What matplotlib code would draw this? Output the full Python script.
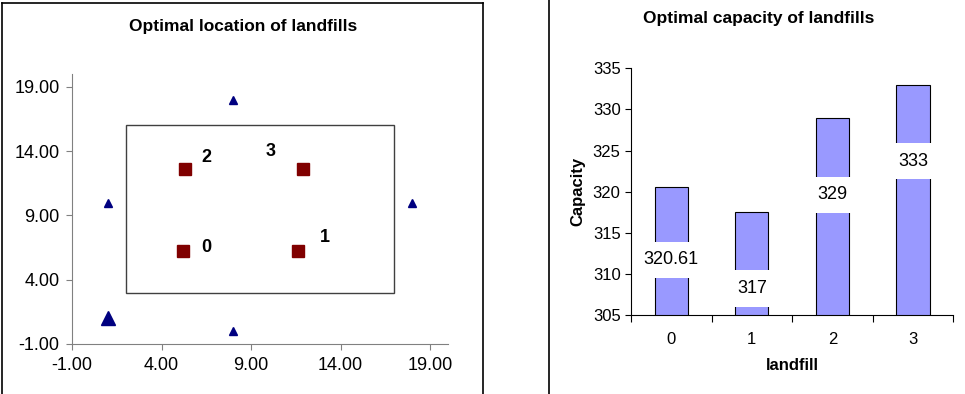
import matplotlib
matplotlib.use('Agg')
import matplotlib.pyplot as plt
from matplotlib.lines import Line2D
from matplotlib.patches import Rectangle

plt.rcParams['font.family'] = ['Liberation Sans', 'DejaVu Sans']

# customer points (triangles)
cust_x = [1, 8, 18, 8, 1]
cust_y = [10, 18, 10, 0, 1]
cust_size = [6, 6, 6, 6, 10]

# landfill locations (squares)
fill_x = [5.2, 11.6, 5.3, 11.9]
fill_y = [6.2, 6.2, 12.6, 12.6]
fill_names = ['0', '1', '2', '3']
name_x = [6.5, 13.1, 6.5, 10.1]
name_y = [6.5, 7.3, 13.5, 14.0]

# feasible region
region = (2, 3, 17, 16)  # x0, y0, x1, y1

# capacity chart
landfills = ['0', '1', '2', '3']
capacity = [320.61, 317.5, 329, 333]
cap_labels = ['320.61', '317', '329', '333']
cap_label_y = [311.7, 308.2, 319.6, 323.7]

fig = plt.figure(figsize=(9.65, 3.94), dpi=100)

# ---- left: locations
ax1 = fig.add_axes([72 / 965, 1 - 344 / 394, 376 / 965, 270 / 394])
x0, y0, x1, y1 = region
ax1.add_patch(Rectangle((x0, y0), x1 - x0, y1 - y0, fill=False,
                        edgecolor='#404040', linewidth=1.0))
for x, y, s in zip(cust_x, cust_y, cust_size):
    ax1.plot(x, y, marker='^', color='#000080', markersize=s, linestyle='none')
ax1.plot(fill_x, fill_y, marker='s', color='#800000', markersize=8.5,
         linestyle='none')
for t, x, y in zip(fill_names, name_x, name_y):
    ax1.text(x, y, t, fontsize=13, fontweight='bold', ha='center', va='center')

ax1.set_xlim(-1, 20)
ax1.set_ylim(-1, 20)
ticks = [-1, 4, 9, 14, 19]
ax1.set_xticks(ticks)
ax1.set_yticks(ticks)
ax1.set_xticklabels([f'{t:.2f}' for t in ticks])
ax1.set_yticklabels([f'{t:.2f}' for t in ticks])
for s in ['top', 'right']:
    ax1.spines[s].set_visible(False)
for s in ['left', 'bottom']:
    ax1.spines[s].set_color('#808080')
ax1.tick_params(labelsize=13, length=4, color='#808080', pad=5)
fig.text(243 / 965, 1 - 27 / 394, 'Optimal location of landfills',
         fontsize=12.5, fontweight='bold', ha='center', va='center')

# ---- right: capacity
ax2 = fig.add_axes([631 / 965, 1 - 315 / 394, 322.3 / 965, 246.7 / 394])
pos = range(len(landfills))
ax2.bar(pos, capacity, width=0.41, bottom=0, color='#9999FF',
        edgecolor='black', linewidth=0.8)
for p, t, y in zip(pos, cap_labels, cap_label_y):
    ax2.text(p, y, t, fontsize=13, ha='center', va='center',
             bbox=dict(facecolor='white', edgecolor='none', pad=7))
ax2.set_ylim(305, 335)
ax2.set_yticks(range(305, 336, 5))
ax2.set_xlim(-0.5, 3.5)
ax2.set_xticks([p - 0.5 for p in range(5)])
ax2.set_xticklabels([])
ax2.set_xticks(list(pos), minor=True)
ax2.set_xticklabels(landfills, minor=True)
ax2.tick_params(axis='x', which='minor', length=0, pad=12)
ax2.tick_params(axis='x', which='major', length=5)
ax2.tick_params(axis='y', length=4)
ax2.tick_params(which='both', labelsize=12)
for s in ['top', 'right']:
    ax2.spines[s].set_visible(False)
ax2.set_ylabel('Capacity', fontsize=12, fontweight='bold', labelpad=5)
ax2.set_xlabel('landfill', fontsize=12, fontweight='bold', labelpad=8)
fig.text(759 / 965, 1 - 19 / 394, 'Optimal capacity of landfills',
         fontsize=12.5, fontweight='bold', ha='center', va='center')

# panel frames
fig.add_artist(Line2D([2 / 965, 2 / 965], [0, 1 - 3 / 394], color='black', linewidth=1.2))
fig.add_artist(Line2D([2 / 965, 483 / 965], [1 - 3 / 394, 1 - 3 / 394], color='black', linewidth=1.2))
fig.add_artist(Line2D([483 / 965, 483 / 965], [0, 1 - 3 / 394], color='black', linewidth=1.2))
fig.add_artist(Line2D([549 / 965, 549 / 965], [0, 1], color='black', linewidth=1.2))

fig.savefig('out.png', dpi=100)
